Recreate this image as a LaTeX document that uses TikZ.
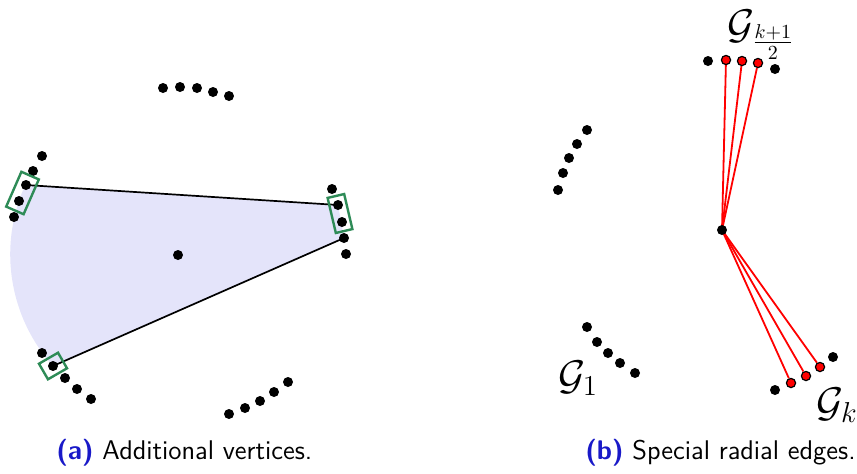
\documentclass[tikz,border=0pt]{standalone}
\usetikzlibrary{calc,backgrounds}
\definecolor{shadecol}{RGB}{228,228,250}
\definecolor{boxgreen}{RGB}{46,139,87}
\definecolor{capblue}{RGB}{25,25,200}
\begin{document}
\begin{tikzpicture}[x=0.5pt,y=0.5pt,
 dot/.style={circle,fill=black,inner sep=0pt,minimum size=5pt},
 rdot/.style={circle,fill=red,draw=black,line width=0.6pt,inner sep=0pt,minimum size=4.6pt},
 edge/.style={line width=0.85pt},
 redge/.style={red,line width=0.9pt},
 gbox/.style={draw=boxgreen,line width=1.2pt,rectangle,inner sep=0pt},
 glabel/.style={font=\fontsize{20}{24}\selectfont,inner sep=0pt},
 captext/.style={font=\sffamily\fontsize{13.5}{16}\selectfont,inner sep=0pt,anchor=base west}]
\useasboundingbox (0,0) rectangle (857,-473);
% ---------- panel (a) ----------
\node[dot] (ca) at (178,-255) {};
% top group
\node[dot] (t1) at (163,-88) {};
\node[dot] (t2) at (180,-87) {};
\node[dot] (t3) at (197,-88) {};
\node[dot] (t4) at (213,-92) {};
\node[dot] (t5) at (229,-96) {};
% left upper group
\node[dot] (l1) at (42,-156) {};
\node[dot] (l2) at (33,-171) {};
\node[dot] (l3) at (26,-185) {};
\node[dot] (l4) at (19,-201) {};
\node[dot] (l5) at (14,-217) {};
% right group
\node[dot] (r1) at (332,-189) {};
\node[dot] (r2) at (338,-205) {};
\node[dot] (r3) at (342,-222) {};
\node[dot] (r4) at (344,-238) {};
\node[dot] (r5) at (346,-254) {};
% bottom left group
\node[dot] (b1) at (42,-353) {};
\node[dot] (b2) at (53,-366) {};
\node[dot] (b3) at (65,-378) {};
\node[dot] (b4) at (77,-389) {};
\node[dot] (b5) at (91,-399) {};
% bottom right group
\node[dot] (s1) at (229,-414) {};
\node[dot] (s2) at (245,-408) {};
\node[dot] (s3) at (260,-401) {};
\node[dot] (s4) at (274,-392) {};
\node[dot] (s5) at (288,-382) {};
\begin{scope}[on background layer]
\fill[shadecol] (l3.center) -- (r2.center) -- (r4.center) -- (b2.center)
  arc[start angle=221.9, end angle=155.3, radius=167.3] -- cycle;
\draw[edge] (l3.center) -- (r2.center);
\draw[edge] (b2.center) -- (r4.center);
\end{scope}
\node[gbox,minimum width=19pt,minimum height=9.5pt,rotate=66.4] (bx1) at ($(l3)!0.5!(l4)$) {};
\node[gbox,minimum width=18pt,minimum height=8.5pt,rotate=-76.8] (bx2) at ($(r2)!0.5!(r3)$) {};
\node[gbox,minimum width=11pt,minimum height=9pt,rotate=30] (bx3) at (b2) {};
% ---------- panel (b) ----------
\node[dot] (cb) at (722,-230) {};
\node[dot] (u1) at (708,-61) {};
\node[rdot] (u2) at (726,-60) {};
\node[rdot] (u3) at (742,-61) {};
\node[rdot] (u4) at (758,-63) {};
\node[dot] (u5) at (775,-69) {};
\node[dot] (v1) at (587,-130) {};
\node[dot] (v2) at (577,-144) {};
\node[dot] (v3) at (569,-158) {};
\node[dot] (v4) at (563,-173) {};
\node[dot] (v5) at (558,-190) {};
\node[dot] (w1) at (587,-327) {};
\node[dot] (w2) at (597,-342) {};
\node[dot] (w3) at (608,-353) {};
\node[dot] (w4) at (620,-363) {};
\node[dot] (w5) at (635,-373) {};
\node[dot] (k1) at (775,-390) {};
\node[rdot] (k2) at (791,-383) {};
\node[rdot] (k3) at (806,-376) {};
\node[rdot] (k4) at (820,-367) {};
\node[dot] (k5) at (833,-357) {};
\begin{scope}[on background layer]
\foreach \t in {u2,u3,u4,k2,k3,k4} \draw[redge] (cb.center) -- (\t);
\end{scope}
\node[glabel] (gtop) at (761,-35) {$\mathcal{G}_{\frac{k+1}{2}}$};
\node[glabel] (gone) at (578,-378) {$\mathcal{G}_1$};
\node[glabel,anchor=west] (gk) at (816,-405) {$\mathcal{G}_k$};
% ---------- captions ----------
\node[captext] (capa) at (56,-459) {\textcolor{capblue}{\bfseries (a)} Additional vertices.};
\node[captext] (capb) at (585,-459) {\textcolor{capblue}{\bfseries (b)} Special radial edges.};
\end{tikzpicture}
\end{document}
